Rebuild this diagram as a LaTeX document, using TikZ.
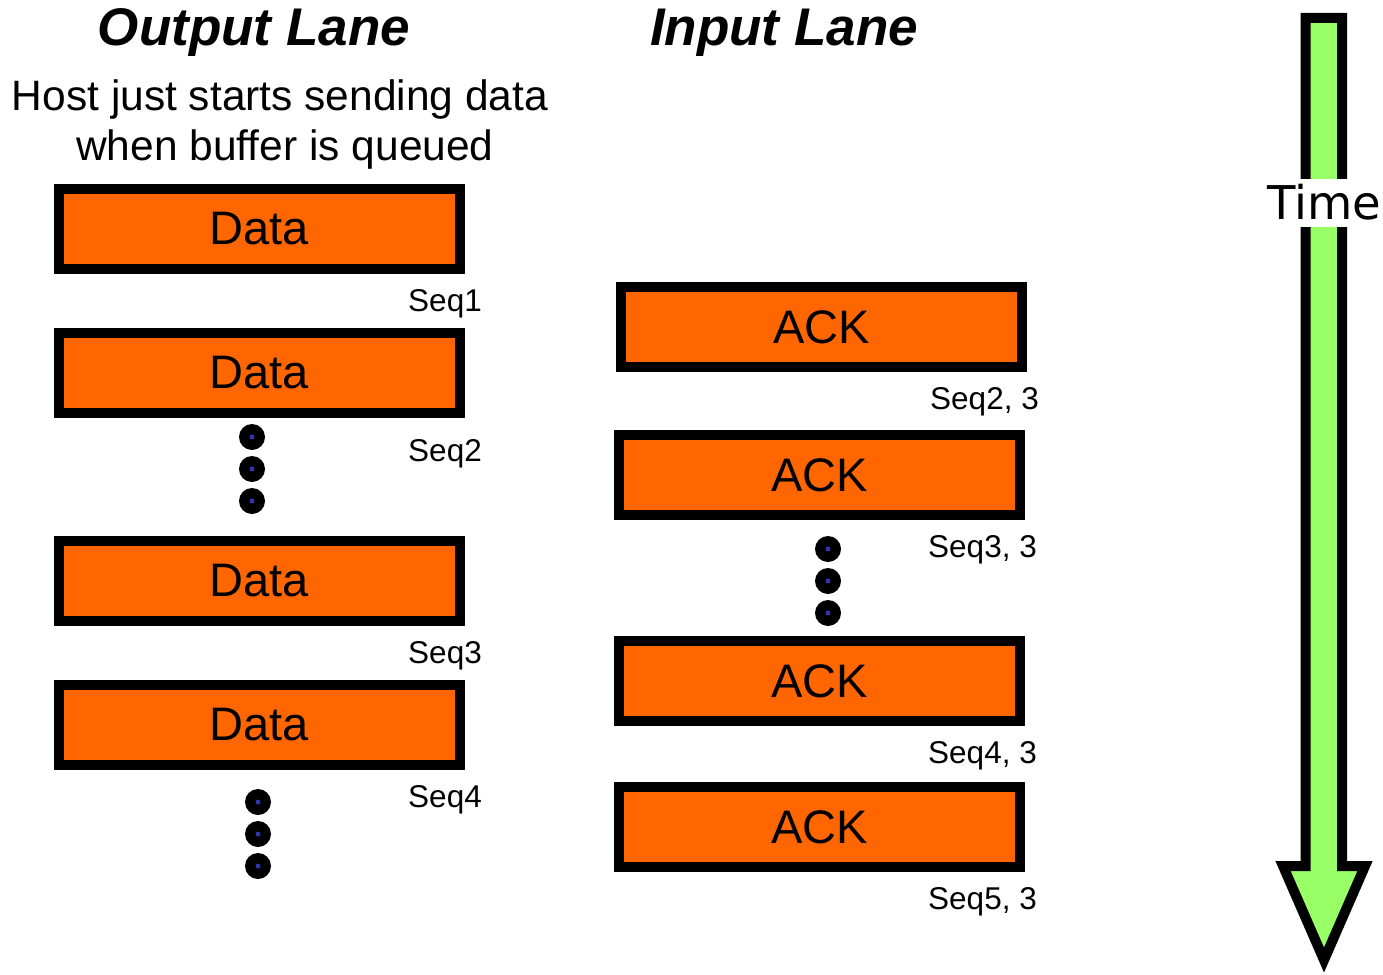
\documentclass[tikz,border=0pt]{standalone}
\usepackage{fontspec}
\setmainfont{Liberation Sans}
\newfontfamily\timefont{DejaVu Sans}
\definecolor{boxorange}{HTML}{FF6600}
\definecolor{arrowgreen}{HTML}{99FF66}
\definecolor{dotblue}{HTML}{3333AA}
\begin{document}
\begin{tikzpicture}[x=1pt,y=-1pt,
  packet/.style={draw, line width=10pt, fill=boxorange, minimum width=401pt, minimum height=80pt, inner sep=0pt, font=\fontsize{47}{47}\selectfont},
  seqlabel/.style={anchor=base east, inner sep=0pt, font=\fontsize{31.5}{31.5}\selectfont},
  seqdot/.style={circle, fill=black, minimum size=26pt, inner sep=0pt, path picture={\fill[dotblue] (path picture bounding box.center) circle (2.5pt);}},
  lanetitle/.style={anchor=base, inner sep=0pt, font=\fontsize{53}{53}\selectfont\bfseries\itshape},
  hostline/.style={anchor=base, inner sep=0pt, font=\fontsize{42.5}{42.5}\selectfont}]
\path[fill=white,use as bounding box] (0,0) rectangle (1383,974);

\node[lanetitle] (outtitle) at (254,46) {Output Lane};
\node[lanetitle] (intitle) at (784,46) {Input Lane};
\node[hostline] (host1) at (280,110) {Host just starts sending data};
\node[hostline] (host2) at (285,160) {when buffer is queued};

\node[packet] (data1) at (259.5,229) {Data};
\node[packet] (data2) at (259.5,373) {Data};
\node[packet] (data3) at (259.5,581) {Data};
\node[packet] (data4) at (259.5,725) {Data};

\node[seqlabel] (seq1) at (482,311) {Seq1};
\node[seqlabel] (seq2) at (482,461) {Seq2};
\node[seqlabel] (seq3) at (482,663) {Seq3};
\node[seqlabel] (seq4) at (482,807) {Seq4};

\node[seqdot] (dota1) at (252,437) {};
\node[seqdot] (dota2) at (252,469) {};
\node[seqdot] (dota3) at (252,501) {};
\node[seqdot] (dotb1) at (258,802) {};
\node[seqdot] (dotb2) at (258,834) {};
\node[seqdot] (dotb3) at (258,866) {};

\node[packet] (ack1) at (821.5,327) {ACK};
\node[packet] (ack2) at (819.5,475) {ACK};
\node[packet] (ack3) at (819.5,681) {ACK};
\node[packet] (ack4) at (819.5,827) {ACK};

\node[seqlabel] (ackseq1) at (1039,409) {Seq2, 3};
\node[seqlabel] (ackseq2) at (1037,557) {Seq3, 3};
\node[seqlabel] (ackseq3) at (1037,763) {Seq4, 3};
\node[seqlabel] (ackseq4) at (1037,909) {Seq5, 3};

\node[seqdot] (dotc1) at (828,549) {};
\node[seqdot] (dotc2) at (828,581) {};
\node[seqdot] (dotc3) at (828,613) {};

\path[draw,line width=10pt,line join=miter,fill=arrowgreen] (1305.5,18) -- (1342,18) -- (1342,866) -- (1365,866) -- (1324,960) -- (1283,866) -- (1305.5,866) -- cycle;
\node[fill=white, inner xsep=0pt, inner ysep=6pt, text height=34pt, text depth=2pt, anchor=base, font=\timefont\fontsize{46.5}{46.5}\selectfont] (time) at (1324,219) {Time};
\end{tikzpicture}
\end{document}
